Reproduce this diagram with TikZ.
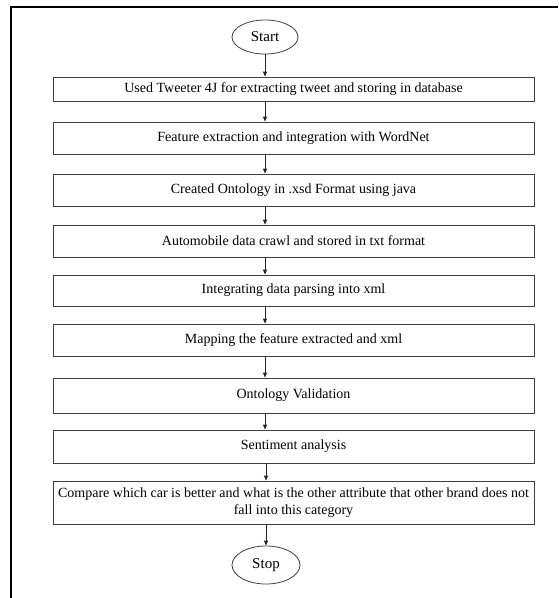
\documentclass[tikz,border=0pt]{standalone}
\usepackage{fontspec}
\setmainfont{Liberation Serif}
\usetikzlibrary{shapes.geometric,arrows.meta}
\begin{document}
\begin{tikzpicture}[x=1pt,y=-1pt,
  stepbox/.style={draw=black!75,line width=0.8pt,rectangle,minimum width=481pt,inner sep=0pt,
     font=\fontsize{14}{17}\selectfont,align=center},
  term/.style={draw=black!75,line width=0.8pt,ellipse,inner sep=0pt,font=\fontsize{15}{17}\selectfont},
  arr/.style={draw=black!85,line width=0.8pt,-{Triangle[length=5pt,width=4pt]}},
  frame/.style={line width=2pt,draw=black}]
\useasboundingbox (0,0) rectangle (558,598);
\fill[white] (0,0) rectangle (558,598);
\draw[frame] (11,598) -- (11,7) -- (558,7);
\node[term,minimum width=66pt,minimum height=34pt] (start) at (265,37) {Start};
\node[stepbox,minimum height=24pt] (b1) at (293.5,89) {Used Tweeter 4J for extracting tweet and storing in database};
\node[stepbox,minimum height=32pt] (b2) at (293.5,138) {Feature extraction and integration with WordNet};
\node[stepbox,minimum height=32pt] (b3) at (293.5,190) {Created Ontology in .xsd Format using java};
\node[stepbox,minimum height=32pt] (b4) at (293.5,241) {Automobile data crawl and stored in txt format};
\node[stepbox,minimum height=31pt] (b5) at (293.5,290.5) {Integrating data parsing into xml};
\node[stepbox,minimum height=32pt] (b6) at (293.5,340) {Mapping the feature extracted and xml};
\node[stepbox,minimum height=35pt] (b7) at (293.5,395.5) {Ontology Validation};
\node[stepbox,minimum height=33pt] (b8) at (293.5,446.5) {Sentiment analysis};
\node[stepbox,minimum height=43pt] (b9) at (293.5,502.5) {Compare which car is better and what is the other attribute that other brand does not\\fall into this category};
\node[term,minimum width=68pt,minimum height=38pt] (stop) at (266,565) {Stop};
\draw[arr] (start.south) -- (b1.north -| start.south);
\draw[arr] (b1.south -| start) -- (b2.north -| start);
\draw[arr] (b2.south -| start) -- (b3.north -| start);
\draw[arr] (b3.south -| start) -- (b4.north -| start);
\draw[arr] (b4.south -| start) -- (b5.north -| start);
\draw[arr] (b5.south -| start) -- (b6.north -| start);
\draw[arr] (b6.south -| start) -- (b7.north -| start);
\draw[arr] (b7.south -| start) -- (b8.north -| start);
\draw[arr] (b8.south -| stop) -- (b9.north -| stop);
\draw[arr] (b9.south -| stop) -- (stop.north);
\end{tikzpicture}
\end{document}
